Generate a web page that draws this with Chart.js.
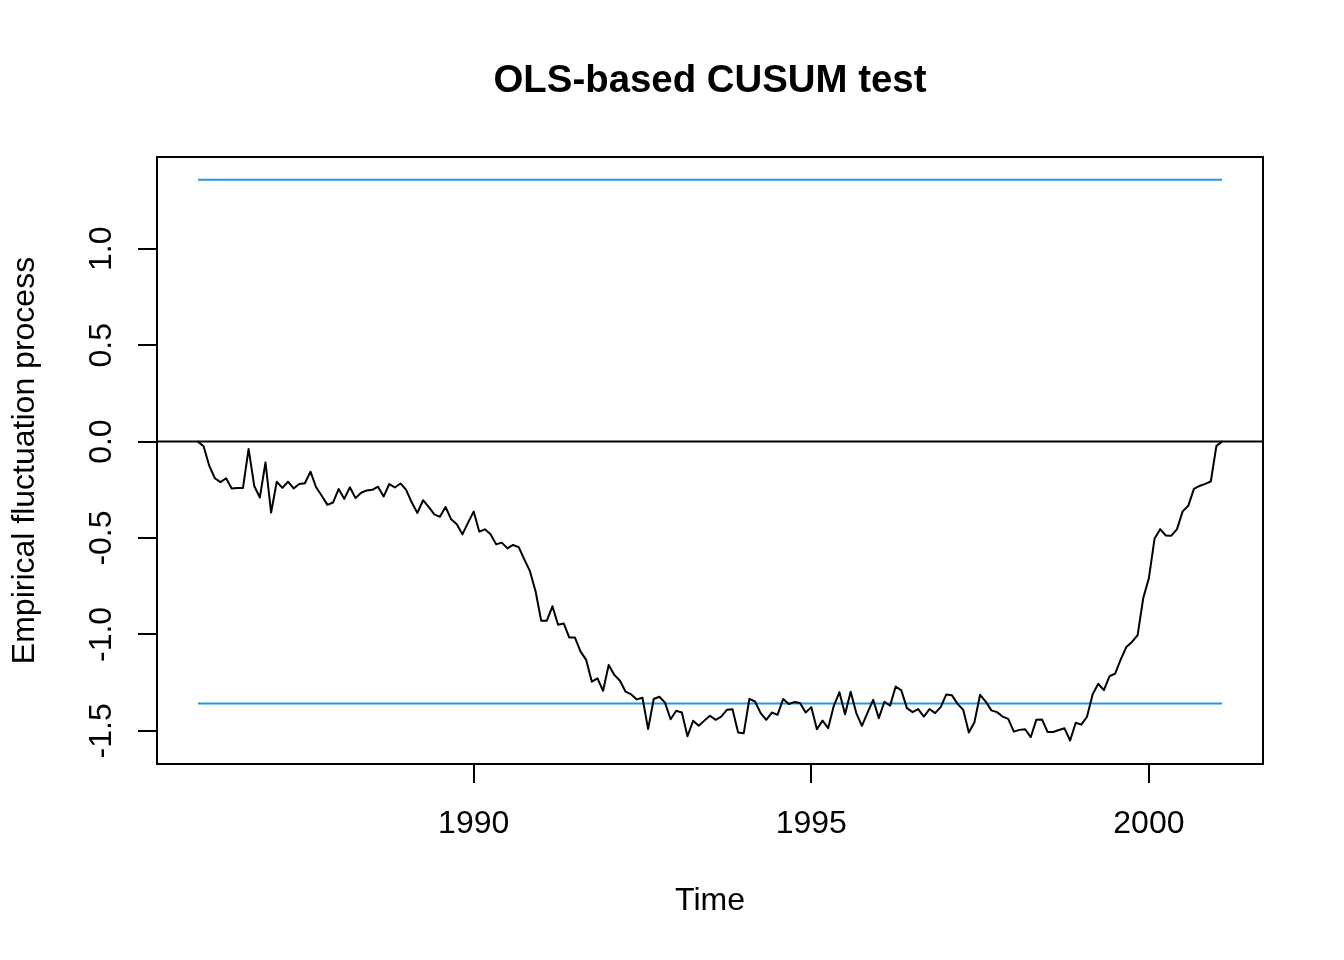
<!DOCTYPE html>
<html>
<head>
<meta charset="utf-8">
<title>OLS-based CUSUM test</title>
<script src="https://cdn.jsdelivr.net/npm/chart.js@4.4.1/dist/chart.umd.min.js"></script>
<style>
  html, body { margin: 0; padding: 0; background: #fff; }
  canvas { display: block; }
</style>
</head>
<body>
<canvas id="cusumChart" width="1344" height="960"></canvas>
<script>
// monthly process, first point Dec 1985
const START_TIME = 1985 + 11 / 12;
const FREQUENCY = 12;

const processValues = [
  0, -0.024, -0.125, -0.19, -0.21, -0.19, -0.243, -0.24, -0.24, -0.038,
  -0.23, -0.29, -0.108, -0.368, -0.208, -0.24, -0.208, -0.243, -0.22, -0.216,
  -0.156, -0.237, -0.281, -0.328, -0.316, -0.246, -0.297, -0.237, -0.293, -0.265,
  -0.253, -0.25, -0.234, -0.285, -0.22, -0.238, -0.217, -0.25, -0.316, -0.37,
  -0.304, -0.339, -0.377, -0.39, -0.339, -0.403, -0.429, -0.481, -0.42, -0.363,
  -0.467, -0.455, -0.481, -0.533, -0.524, -0.554, -0.536, -0.547, -0.611, -0.672,
  -0.776, -0.929, -0.929, -0.854, -0.95, -0.943, -1.016, -1.016, -1.089, -1.132,
  -1.245, -1.228, -1.292, -1.158, -1.21, -1.24, -1.297, -1.311, -1.337, -1.328,
  -1.491, -1.335, -1.323, -1.354, -1.44, -1.396, -1.405, -1.528, -1.448, -1.474,
  -1.447, -1.422, -1.443, -1.426, -1.391, -1.388, -1.509, -1.512, -1.334, -1.348,
  -1.408, -1.443, -1.405, -1.417, -1.335, -1.361, -1.351, -1.356, -1.405, -1.377,
  -1.492, -1.447, -1.486, -1.37, -1.3, -1.414, -1.297, -1.408, -1.474, -1.405,
  -1.339, -1.434, -1.349, -1.37, -1.27, -1.29, -1.382, -1.403, -1.387, -1.426,
  -1.387, -1.408, -1.377, -1.311, -1.316, -1.36, -1.391, -1.509, -1.455, -1.313,
  -1.348, -1.394, -1.403, -1.426, -1.438, -1.504, -1.495, -1.492, -1.533, -1.442,
  -1.441, -1.506, -1.506, -1.496, -1.487, -1.55, -1.458, -1.468, -1.427, -1.311,
  -1.256, -1.289, -1.217, -1.203, -1.13, -1.065, -1.039, -1.004, -0.811, -0.708,
  -0.504, -0.454, -0.487, -0.488, -0.454, -0.362, -0.333, -0.245, -0.23, -0.219,
  -0.207, -0.022, 0
];

const BOUNDARY = 1.358;

const xTicks = [1990, 1995, 2000];
const yTicks = [-1.5, -1.0, -0.5, 0.0, 0.5, 1.0];

const X_MIN = 1985.31, X_MAX = 2001.69;
const Y_MIN = -1.672, Y_MAX = 1.476;

const FONT = "'Liberation Sans', Arial, Helvetica, sans-serif";
const BOUNDARY_COLOR = "#2297E6";

const END_TIME = START_TIME + (processValues.length - 1) / FREQUENCY;
const processPoints = processValues.map((v, i) => ({ x: START_TIME + i / FREQUENCY, y: v }));

// R-style box, titles and tick labels
const rFrame = {
  id: "rFrame",
  afterDraw(chart) {
    const { ctx, chartArea: a, scales } = chart;
    ctx.save();
    ctx.strokeStyle = "#000";
    ctx.lineWidth = 2;
    ctx.strokeRect(a.left, a.top, a.right - a.left, a.bottom - a.top);

    ctx.fillStyle = "#000";
    ctx.font = "bold 38.4px " + FONT;
    ctx.textAlign = "center";
    ctx.textBaseline = "alphabetic";
    const cx = (a.left + a.right) / 2;
    const cy = (a.top + a.bottom) / 2;
    ctx.fillText("OLS-based CUSUM test", cx, 92);

    ctx.font = "32px " + FONT;
    xTicks.forEach((t) => {
      ctx.fillText(String(t), scales.x.getPixelForValue(t), a.bottom + 69);
    });
    ctx.fillText("Time", cx, a.bottom + 146);

    yTicks.forEach((t) => {
      ctx.save();
      ctx.translate(a.left - 46, scales.y.getPixelForValue(t));
      ctx.rotate(-Math.PI / 2);
      ctx.fillText(t.toFixed(1), 0, 0);
      ctx.restore();
    });

    ctx.translate(a.left - 123, cy);
    ctx.rotate(-Math.PI / 2);
    ctx.fillText("Empirical fluctuation process", 0, 0);
    ctx.restore();
  },
};

const tickGrid = {
  display: true,
  drawOnChartArea: false,
  drawTicks: true,
  tickLength: 19,
  color: "#000",
  lineWidth: 2,
};

new Chart(document.getElementById("cusumChart"), {
  type: "line",
  data: {
    datasets: [
      {
        data: processPoints,
        borderColor: "#000",
        borderWidth: 2,
        borderJoinStyle: "round",
        borderCapStyle: "round",
        pointRadius: 0,
        tension: 0,
      },
      {
        data: [{ x: START_TIME, y: BOUNDARY }, { x: END_TIME, y: BOUNDARY }],
        borderColor: BOUNDARY_COLOR,
        borderWidth: 2,
        pointRadius: 0,
      },
      {
        data: [{ x: START_TIME, y: -BOUNDARY }, { x: END_TIME, y: -BOUNDARY }],
        borderColor: BOUNDARY_COLOR,
        borderWidth: 2,
        pointRadius: 0,
      },
      {
        data: [{ x: X_MIN, y: 0 }, { x: X_MAX, y: 0 }],
        borderColor: "#000",
        borderWidth: 2,
        pointRadius: 0,
      },
    ],
  },
  options: {
    responsive: false,
    devicePixelRatio: 1,
    animation: false,
    events: [],
    layout: { padding: { top: 157, right: 81, left: 0, bottom: 0 } },
    plugins: { legend: { display: false }, tooltip: { enabled: false }, title: { display: false } },
    scales: {
      x: {
        type: "linear",
        min: X_MIN,
        max: X_MAX,
        border: { display: false },
        grid: tickGrid,
        ticks: { display: false },
        afterBuildTicks: (scale) => { scale.ticks = xTicks.map((v) => ({ value: v })); },
        afterFit: (scale) => { scale.height = 196; },
      },
      y: {
        type: "linear",
        min: Y_MIN,
        max: Y_MAX,
        border: { display: false },
        grid: tickGrid,
        ticks: { display: false },
        afterBuildTicks: (scale) => { scale.ticks = yTicks.map((v) => ({ value: v })); },
        afterFit: (scale) => { scale.width = 157; },
      },
    },
  },
  plugins: [rFrame],
});
</script>
</body>
</html>
